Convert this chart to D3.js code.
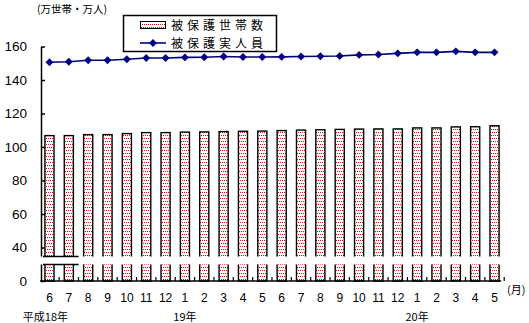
<!DOCTYPE html>
<html>
<head>
<meta charset="utf-8">
<script src="https://cdn.jsdelivr.net/npm/d3@7"></script>
<style>
body { margin: 0; background: #fff; }
svg { display: block; }
</style>
</head>
<body>
<svg id="chart" width="529" height="323"></svg>
<script>
// 月（平成18年6月〜平成20年5月）
const months = ["6","7","8","9","10","11","12","1","2","3","4","5",
                "6","7","8","9","10","11","12","1","2","3","4","5"];
// 被保護世帯数（万世帯）
const households = [106.8,106.8,107.4,107.4,108.0,108.6,108.6,108.9,109.0,109.2,109.4,109.5,
                    109.8,110.1,110.3,110.5,110.7,110.8,110.8,111.4,111.4,112.0,112.1,112.7];
// 被保護実人員（万人）
const persons = [150.6,150.9,151.8,151.8,152.4,153.1,153.1,153.5,153.6,154.0,153.7,153.7,
                 153.8,154.0,154.2,154.3,155.0,155.2,155.9,156.5,156.5,157.1,156.5,156.5];
// 年の表示位置
const yearIndex = [0, 7, 19];
const yearText = ["平成18年", "19年", "20年"];
// 縦軸（一番下の目盛りは省略して0と表示）
const yTicks = [20, 40, 60, 80, 100, 120, 140, 160];
const yTickLabels = ["0", "40", "60", "80", "100", "120", "140", "160"];
const breakLo = 29.9, breakHi = 34.6;

const svg = d3.select("#chart");
const navy = "#000080";
const numFont = "'Liberation Sans', Arial, sans-serif";
const jpFont = "'Noto Sans CJK JP', sans-serif";

// 点模様
const defs = svg.append("defs");
const pat = defs.append("pattern")
    .attr("id", "dots")
    .attr("patternUnits", "userSpaceOnUse")
    .attr("width", 2)
    .attr("height", 6);
pat.append("rect").attr("width", 2).attr("height", 6).attr("fill", "#fff");
pat.append("rect").attr("x", 0).attr("y", 0).attr("width", 1).attr("height", 1).attr("fill", "#ff0000");
pat.append("rect").attr("x", 1).attr("y", 3).attr("width", 1).attr("height", 1).attr("fill", "#ff0000");

const x = d3.scaleBand()
    .domain(d3.range(months.length))
    .range([39.8, 504.2])
    .paddingInner(0.53)
    .paddingOuter(0.265);

const y = d3.scaleLinear()
    .domain([20, 160])
    .range([281, 46.5]);

const cx = i => x(i) + x.bandwidth() / 2;

// 棒
svg.append("g")
    .selectAll("rect")
    .data(households)
    .join("rect")
    .attr("x", (d, i) => x(i))
    .attr("y", d => y(d))
    .attr("width", x.bandwidth())
    .attr("height", d => y(20) - y(d))
    .attr("fill", "url(#dots)")
    .attr("stroke", "#000")
    .attr("stroke-width", 1.4);

// 縦軸
const yAxis = svg.append("g")
    .attr("transform", "translate(41,0)")
    .call(d3.axisLeft(y)
        .tickValues(yTicks)
        .tickFormat((d, i) => yTickLabels[i])
        .tickSizeInner(-4)
        .tickSizeOuter(0)
        .tickPadding(14));
yAxis.select(".domain").attr("stroke-width", 1.5);
yAxis.selectAll(".tick line").attr("stroke-width", 1.5);
yAxis.selectAll("text")
    .style("font-family", numFont)
    .style("font-size", "13.5px")
    .attr("fill", "#000");

// 横軸
const baseY = y(20);
svg.append("line")
    .attr("x1", 40).attr("x2", x.range()[1] - 3)
    .attr("y1", baseY).attr("y2", baseY)
    .attr("stroke", "#000").attr("stroke-width", 1.5);

svg.append("g")
    .selectAll("line")
    .data(d3.range(1, months.length + 1))
    .join("line")
    .attr("x1", i => x.range()[0] + i * x.step())
    .attr("x2", i => x.range()[0] + i * x.step())
    .attr("y1", baseY)
    .attr("y2", baseY - 4)
    .attr("stroke", "#000")
    .attr("stroke-width", 1.2);

const xAxis = svg.append("g")
    .attr("transform", `translate(0,${baseY})`)
    .call(d3.axisBottom(x)
        .tickFormat(i => months[i])
        .tickSize(0)
        .tickPadding(12));
xAxis.select(".domain").remove();
xAxis.selectAll("text")
    .style("font-family", numFont)
    .style("font-size", "12px")
    .attr("fill", "#000");

svg.append("g")
    .selectAll("text")
    .data(yearIndex)
    .join("text")
    .attr("x", (d, i) => cx(d) - (i === 0 ? 4 : 0))
    .attr("y", 316)
    .attr("text-anchor", "middle")
    .attr("dominant-baseline", "central")
    .style("font-family", jpFont)
    .style("font-size", "11px")
    .text((d, i) => yearText[i]);

svg.append("text")
    .attr("x", 507)
    .attr("y", 289)
    .attr("dominant-baseline", "central")
    .style("font-family", jpFont)
    .style("font-size", "11px")
    .text("(月)");

svg.append("text")
    .attr("x", 37)
    .attr("y", 8)
    .attr("dominant-baseline", "central")
    .style("font-family", jpFont)
    .style("font-size", "10.5px")
    .text("(万世帯・万人)");

// 省略の波線
svg.append("rect")
    .attr("x", 38)
    .attr("width", 470)
    .attr("y", y(breakHi))
    .attr("height", y(breakLo) - y(breakHi))
    .attr("fill", "#fff");
svg.append("g")
    .selectAll("line")
    .data([breakHi, breakLo])
    .join("line")
    .attr("x1", 43)
    .attr("x2", x(2) - 5)
    .attr("y1", d => y(d))
    .attr("y2", d => y(d))
    .attr("stroke", "#000")
    .attr("stroke-width", 1.5);

// 折れ線
const line = d3.line()
    .x((d, i) => cx(i))
    .y(d => y(d));

svg.append("path")
    .datum(persons)
    .attr("fill", "none")
    .attr("stroke", navy)
    .attr("stroke-width", 1.6)
    .attr("d", line);

const diamond = d3.symbol().type(d3.symbolDiamond2).size(40);
svg.append("g")
    .selectAll("path")
    .data(persons)
    .join("path")
    .attr("transform", (d, i) => `translate(${cx(i)},${y(d)})`)
    .attr("d", diamond)
    .attr("fill", navy);

// 凡例
const lg = svg.append("g");
lg.append("rect")
    .attr("x", 123.5).attr("y", 15.5)
    .attr("width", 153).attr("height", 36)
    .attr("fill", "#fff")
    .attr("stroke", "#000")
    .attr("stroke-width", 1.5);
lg.append("rect")
    .attr("x", 140.5).attr("y", 21.5)
    .attr("width", 25).attr("height", 7)
    .attr("fill", "url(#dots)")
    .attr("stroke", "#000")
    .attr("stroke-width", 1);
lg.append("line")
    .attr("x1", 140).attr("x2", 166)
    .attr("y1", 43).attr("y2", 43)
    .attr("stroke", navy).attr("stroke-width", 1.6);
lg.append("path")
    .attr("transform", "translate(153,43)")
    .attr("d", diamond)
    .attr("fill", navy);
lg.selectAll("text")
    .data(["被保護世帯数", "被保護実人員"])
    .join("text")
    .attr("x", 171)
    .attr("y", (d, i) => 24.5 + i * 18)
    .attr("dominant-baseline", "central")
    .style("font-family", jpFont)
    .style("font-size", "12px")
    .style("letter-spacing", "4px")
    .text(d => d);
</script>
</body>
</html>
